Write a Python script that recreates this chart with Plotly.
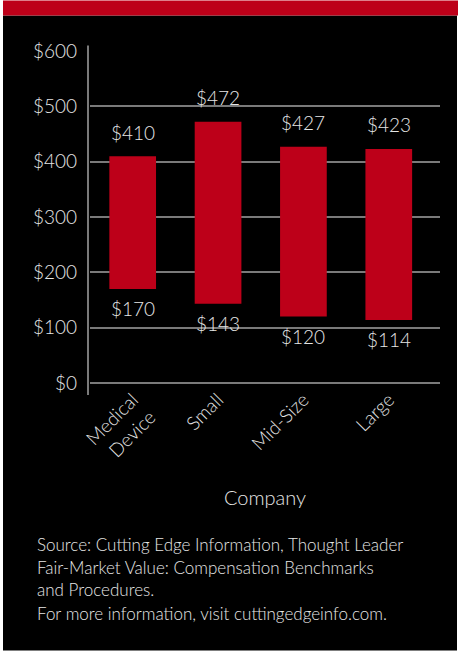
import plotly.graph_objects as go

categories = ["Medical<br>Device", "Small", "Mid-Size", "Large"]
low_values = [170, 143, 120, 114]
high_values = [410, 472, 427, 423]
y_tick_vals = [0, 100, 200, 300, 400, 500, 600]
y_tick_text = ["$0", "$100", "$200", "$300", "$400", "$500", "$600"]
x_title = "Company"
source_lines = [
    "Source: Cutting Edge Information, Thought Leader",
    "Fair-Market Value: Compensation Benchmarks",
    "and Procedures.",
    "For more information, visit cuttingedgeinfo.com.",
]

RED = "#BD0019"
TXT = "#E6E6E6"
GRID = "#7A7A7A"
FONT = "Lato, Open Sans, sans-serif"

W, H = 459, 651
L, R, T, B = 90, 19, 50.5, 268
PW, PH = W - L - R, H - T - B

def px(xp):
    return (xp - L) / PW

def py(yp):
    return (H - B - yp) / PH

fig = go.Figure()
fig.add_trace(go.Bar(
    x=list(range(len(categories))),
    y=[h - l for h, l in zip(high_values, low_values)],
    base=low_values,
    marker=dict(color=RED, line=dict(width=0)),
    hoverinfo="skip",
))

annotations = []
for i, (lo, hi) in enumerate(zip(low_values, high_values)):
    annotations.append(dict(x=i, y=hi, xref="x", yref="y", text=f"${hi}", showarrow=False,
                            yanchor="middle", yshift=24,
                            font=dict(family=FONT, size=19, color=TXT, weight=300)))
    annotations.append(dict(x=i, y=lo, xref="x", yref="y", text=f"${lo}", showarrow=False,
                            yanchor="middle", yshift=-20,
                            font=dict(family=FONT, size=19, color=TXT, weight=300)))

annotations.append(dict(x=0.5, y=py(497), xref="paper", yref="paper", text=x_title,
                        showarrow=False, xanchor="center", yanchor="middle",
                        font=dict(family=FONT, size=20, color=TXT, weight=300)))
for line, yc in zip(source_lines, [545, 568, 590, 614]):
    annotations.append(dict(x=px(35), y=py(yc), xref="paper", yref="paper",
                            text=line, showarrow=False,
                            xanchor="left", yanchor="middle", align="left",
                            font=dict(family=FONT, size=17, color=TXT, weight=300)))

shapes = [
    dict(type="rect", xref="paper", yref="paper", x0=px(3), x1=px(457), y0=py(651), y1=py(15),
         fillcolor="black", line=dict(width=0), layer="below"),
    dict(type="rect", xref="paper", yref="paper", x0=px(3), x1=px(458), y0=py(15), y1=py(0),
         fillcolor=RED, line=dict(width=0), layer="below"),
    dict(type="line", xref="paper", yref="paper", x0=px(88), x1=px(88), y0=py(395), y1=py(45),
         line=dict(color=GRID, width=2), layer="below"),
]

fig.update_layout(
    width=W, height=H,
    margin=dict(l=L, r=R, t=T, b=B, pad=0),
    paper_bgcolor="white",
    plot_bgcolor="rgba(0,0,0,0)",
    showlegend=False,
    bargap=0.453,
    annotations=annotations,
    shapes=shapes,
    font=dict(family=FONT, color=TXT),
    xaxis=dict(
        range=[-0.5, 3.6],
        tickmode="array",
        tickvals=list(range(len(categories))),
        ticktext=categories,
        tickangle=-45,
        showgrid=False, zeroline=False, showline=False, ticks="",
        ticklabelstandoff=1,
        tickfont=dict(family=FONT, size=19, color=TXT, weight=300),
    ),
    yaxis=dict(
        range=[0, 600],
        tickmode="array",
        tickvals=y_tick_vals,
        ticktext=y_tick_text,
        showgrid=True, gridcolor=GRID, gridwidth=1.5,
        zeroline=True, zerolinecolor=GRID, zerolinewidth=1.5,
        showline=False, ticks="",
        ticklabelstandoff=12,
        tickfont=dict(family=FONT, size=19, color=TXT, weight=300),
    ),
)

fig.write_html("out.html")
